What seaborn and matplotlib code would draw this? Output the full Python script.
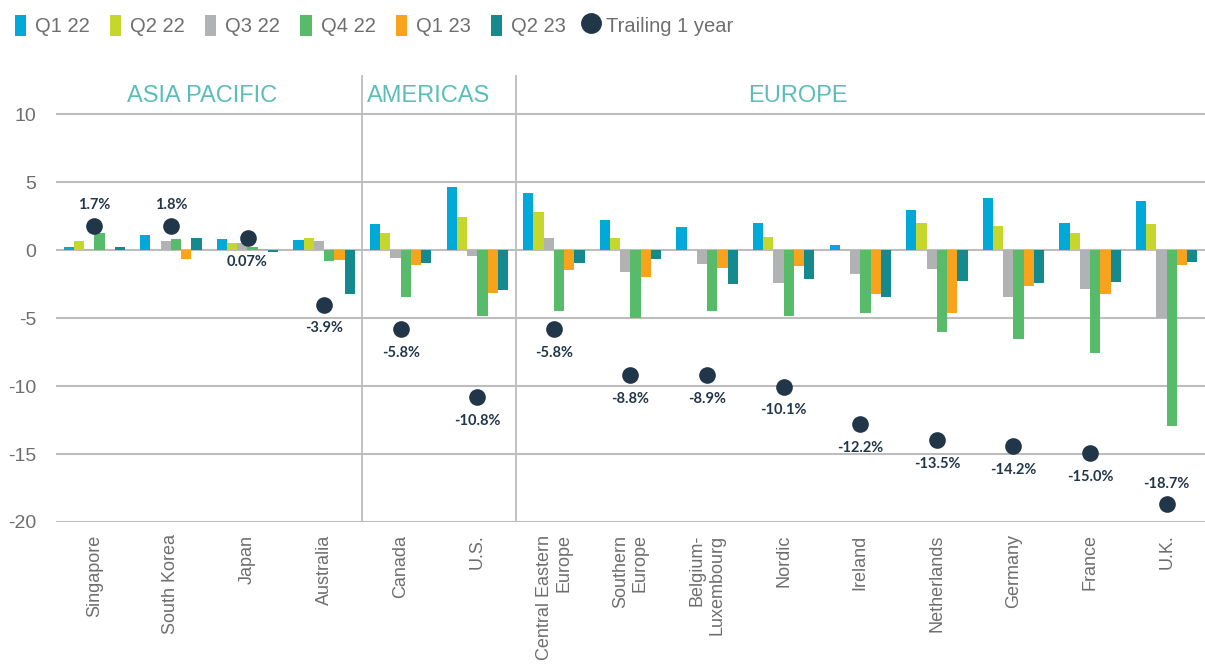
import matplotlib
matplotlib.use('Agg')
import matplotlib.pyplot as plt
from matplotlib.patches import Patch
from matplotlib.lines import Line2D
import pandas as pd
import seaborn as sns

# markets along the x axis
markets = ['Singapore', 'South Korea', 'Japan', 'Australia', 'Canada', 'U.S.',
           'Central Eastern\nEurope', 'Southern\nEurope', 'Belgium-\nLuxembourg',
           'Nordic', 'Ireland', 'Netherlands', 'Germany', 'France', 'U.K.']
quarters = ['Q1 22', 'Q2 22', 'Q3 22', 'Q4 22', 'Q1 23', 'Q2 23']

# quarterly values
q1_22 = [0.22, 1.10, 0.81, 0.74, 1.91, 4.63, 4.19, 2.21, 1.69, 1.99, 0.37, 2.94, 3.82, 1.99, 3.60]
q2_22 = [0.69, 0.05, 0.54, 0.88, 1.25, 2.43, 2.79, 0.88, 0.07, 0.96, 0.02, 1.99, 1.76, 1.25, 1.91]
q3_22 = [0.07, 0.69, 0.55, 0.66, -0.56, -0.42, 0.88, -1.59, -1.0, -2.40, -1.74, -1.37, -3.43, -2.84, -4.98]
q4_22 = [1.27, 0.81, 0.22, -0.78, -3.43, -4.83, -4.46, -4.98, -4.46, -4.83, -4.61, -6.0, -6.52, -7.55, -12.9]
q1_23 = [0.05, -0.66, 0.10, -0.71, -1.08, -3.14, -1.45, -1.96, -1.30, -1.15, -3.21, -4.61, -2.62, -3.21, -1.08]
q2_23 = [0.22, 0.88, -0.15, -3.21, -0.93, -2.92, -0.93, -0.64, -2.48, -2.11, -3.43, -2.25, -2.40, -2.33, -0.86]

# trailing 1 year: dot positions as drawn and their printed labels
trailing = [1.8, 1.8, 0.9, -4.0, -5.8, -10.8, -5.8, -9.2, -9.2, -10.05, -12.8, -14.0, -14.4, -14.95, -18.7]
trailing_labels = ['1.7%', '1.8%', '0.07%', '-3.9%', '-5.8%', '-10.8%', '-5.8%', '-8.8%', '-8.9%',
                   '-10.1%', '-12.2%', '-13.5%', '-14.2%', '-15.0%', '-18.7%']
label_above = ['Singapore', 'South Korea', 'U.K.']

regions = ['ASIA PACIFIC', 'AMERICAS', 'EUROPE']
region_x = [1.41, 4.36, 9.18]
yticks = [10, 5, 0, -5, -10, -15, -20]

colors = ['#00A9D8', '#C5D62D', '#B0B2B3', '#58BB69', '#F8A31C', '#148A8E']
dot_color = '#22364A'
grid_color = '#BDBDBD'
text_color = '#6E6E6E'
region_color = '#5BBDBB'

# long form table for seaborn
rows = []
for q, vals in zip(quarters, [q1_22, q2_22, q3_22, q4_22, q1_23, q2_23]):
    for m, v in zip(markets, vals):
        rows.append({'market': m, 'quarter': q, 'value': v})
df = pd.DataFrame(rows)

sns.set_style('white')
plt.rcParams['font.family'] = ['Liberation Sans', 'DejaVu Sans']

fig, ax = plt.subplots(figsize=(12.05, 6.64), dpi=100)
fig.subplots_adjust(left=56 / 1205, right=1.0, top=1 - 75 / 664, bottom=1 - 522 / 664)

sns.barplot(data=df, x='market', y='value', hue='quarter', order=markets, hue_order=quarters,
            palette=colors, saturation=1, width=0.8, linewidth=0, legend=False, ax=ax, zorder=2)
sns.stripplot(x=markets, y=trailing, order=markets, jitter=False, color=dot_color, size=12,
              linewidth=0, ax=ax, zorder=5)

for i, (m, t, lab) in enumerate(zip(markets, trailing, trailing_labels)):
    off = 15 if m in label_above else -17
    ax.annotate(lab, (i, t), xytext=(0, off), textcoords='offset points', ha='center', va='center',
                fontsize=10.5, fontweight='bold', color=dot_color, family=['Lato', 'DejaVu Sans'])

ax.set_xlim(-0.5, 14.5)
ax.set_ylim(-20, 12.9)
ax.set_axisbelow(True)
ax.yaxis.grid(True, color=grid_color, lw=1.5)
ax.xaxis.grid(False)
for s in ax.spines.values():
    s.set_visible(False)

ax.axvline(3.5, color=grid_color, lw=1.3)
ax.axvline(5.5, color=grid_color, lw=1.3)

for r, x in zip(regions, region_x):
    ax.text(x, 11.35, r, ha='center', va='center', fontsize=17, color=region_color)

ax.set_yticks(yticks)
ax.set_yticklabels([str(v) for v in yticks], fontsize=14, color=text_color)
ax.set_xticks(range(len(markets)))
ax.set_xticklabels(markets, rotation=90, fontsize=13, color=text_color)
for t in ax.get_xticklabels():
    t.set_multialignment('right')
ax.tick_params(axis='y', length=0, pad=14)
ax.tick_params(axis='x', length=0, pad=9)
ax.set_xlabel('')
ax.set_ylabel('')

handles = [Patch(facecolor=c, edgecolor='none') for c in colors]
handles.append(Line2D([], [], marker='o', color=dot_color, linestyle='none', markersize=14))
fig.legend(handles, quarters + ['Trailing 1 year'], loc='upper left', bbox_to_anchor=(0.006, 0.99),
           ncol=7, frameon=False, fontsize=14.5, handlelength=0.55, handleheight=1.25,
           handletextpad=0.45, columnspacing=1.0, borderaxespad=0, labelcolor=text_color)

fig.savefig('out.png', dpi=100)
